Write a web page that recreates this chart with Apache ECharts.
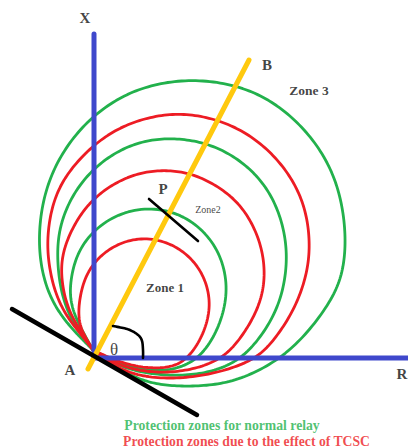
<!DOCTYPE html>
<html>
<head>
<meta charset="utf-8">
<style>
  html, body { margin: 0; padding: 0; background: #fff; }
  #chart { width: 408px; height: 448px; }
</style>
<script src="https://cdn.jsdelivr.net/npm/echarts@6/dist/echarts.min.js"></script>
</head>
<body>
<div id="chart"></div>
<script>
// zone outlines, clockwise from A (axis units follow the picture)
var greenZone1 = [[93, 350], [82, 330], [73, 310], [70, 287], [80, 248], [109, 219], [148, 208], [187, 218], [216, 247], [227, 286], [219, 326], [198, 358], [170, 370], [140, 369], [115, 361], [93, 350]];
var greenZone2 = [[93, 350], [80, 333], [68, 313], [60, 287], [57, 253], [60, 225], [72, 196], [90, 172], [114, 153], [142, 141], [172, 138], [202, 142], [229, 153], [254, 172], [272, 196], [283, 225], [287, 253], [285, 280], [278, 307], [263, 334], [242, 358], [220, 369], [190, 376], [150, 374], [120, 367], [93, 350]];
var greenZone3 = [[93, 350], [80, 337], [67, 323], [53, 303], [43, 277], [38, 240], [44, 193], [60, 156], [84, 124], [116, 99], [150, 85], [192, 79], [235, 85], [269, 99], [300, 124], [325, 156], [341, 195], [346, 240], [343, 270], [334, 297], [304, 337], [277, 361], [237, 381], [204, 386], [170, 386], [147, 382], [123, 372], [93, 350]];
var redZone1 = [[93, 350], [87, 340], [80, 325], [79, 304], [88, 271], [112, 247], [144, 238], [177, 247], [201, 271], [210, 303], [203, 334], [187, 358], [170, 367], [140, 367], [115, 360], [93, 350]];
var redZone2 = [[93, 350], [87, 340], [75, 323], [65, 300], [61, 273], [63, 250], [76, 221], [92, 200], [113, 184], [138, 173], [164, 170], [190, 173], [214, 184], [236, 200], [251, 221], [261, 245], [265, 271], [262, 298], [251, 322], [239, 340], [223, 358], [195, 369], [165, 373], [135, 370], [112, 362], [93, 350]];
var redZone3 = [[93, 350], [80, 333], [67, 317], [55, 293], [49, 265], [47, 240], [52, 205], [64, 178], [85, 153], [112, 131], [145, 118], [178, 113], [212, 118], [244, 131], [272, 153], [293, 180], [306, 210], [310, 245], [307, 274], [294, 311], [273, 341], [257, 358], [227, 370], [190, 378], [150, 378], [120, 370], [93, 350]];

var xAxisLine = [[94, 34], [94, 358]];
var rAxisLine = [[94, 358], [408, 358]];
var lineAB = [[88, 369], [249, 60]];
var tangentLine = [[12, 309], [197, 415]];
var pTick = [[149, 199], [198, 241]];
var thetaArc = [[113, 326], [130, 330], [141, 338], [143, 350], [143, 358]];

var labels = [
  { pos: [85, 18], text: 'X', size: 15, weight: 'bold', color: '#111' },
  { pos: [267, 65], text: 'B', size: 15, weight: 'bold', color: '#111' },
  { pos: [309, 90], text: 'Zone 3', size: 13.5, weight: 'bold', color: '#111' },
  { pos: [163, 189], text: 'P', size: 15, weight: 'bold', color: '#111' },
  { pos: [208, 209], text: 'Zone2', size: 10, weight: 'normal', color: '#111' },
  { pos: [165, 287], text: 'Zone 1', size: 13, weight: 'bold', color: '#111' },
  { pos: [70, 370], text: 'A', size: 15, weight: 'bold', color: '#111' },
  { pos: [114, 349], text: '\u03b8', size: 17, weight: 'normal', color: '#111' },
  { pos: [402, 374], text: 'R', size: 15, weight: 'bold', color: '#111' },
  { pos: [222, 425], text: 'Protection zones for normal relay', size: 13.7, weight: 'bold', color: '#22b14c' },
  { pos: [246.5, 441], text: 'Protection zones due to the effect of TCSC', size: 13.7, weight: 'bold', color: '#ed1c24' }
];

function dist(a, b) {
  return Math.sqrt(Math.sqrt((a[0] - b[0]) * (a[0] - b[0]) + (a[1] - b[1]) * (a[1] - b[1])));
}

// centripetal catmull-rom, the points are not evenly spaced
function densify(pts) {
  var out = [];
  for (var i = 0; i < pts.length - 1; i++) {
    var p1 = pts[i], p2 = pts[i + 1];
    var p0 = i > 0 ? pts[i - 1] : null, p3 = i < pts.length - 2 ? pts[i + 2] : null;
    var d1 = dist(p1, p2);
    var d0 = p0 ? dist(p0, p1) : 0, d2 = p3 ? dist(p2, p3) : 0;
    for (var k = 0; k < 12; k++) {
      var t = k / 12, t2 = t * t, t3 = t2 * t;
      var pt = [];
      for (var c = 0; c < 2; c++) {
        var m1 = p0 ? ((p1[c] - p0[c]) / d0 - (p2[c] - p0[c]) / (d0 + d1) + (p2[c] - p1[c]) / d1) * d1 : p2[c] - p1[c];
        var m2 = p3 ? ((p2[c] - p1[c]) / d1 - (p3[c] - p1[c]) / (d1 + d2) + (p3[c] - p2[c]) / d2) * d1 : p2[c] - p1[c];
        pt[c] = (2 * t3 - 3 * t2 + 1) * p1[c] + (t3 - 2 * t2 + t) * m1 + (-2 * t3 + 3 * t2) * p2[c] + (t3 - t2) * m2;
      }
      out.push(pt);
    }
  }
  out.push(pts[pts.length - 1]);
  return out;
}

// moving average to take the reading noise out, ends stay on A
function relax(pts, w) {
  return pts.map(function(p, i) {
    var h = Math.min(w, i, pts.length - 1 - i), x = 0, y = 0;
    for (var j = i - h; j <= i + h; j++) {
      x += pts[j][0];
      y += pts[j][1];
    }
    return [x / (2 * h + 1), y / (2 * h + 1)];
  });
}

function curve(data, color, width, z, w) {
  return {
    type: 'custom',
    data: data,
    silent: true,
    z: z,
    renderItem: function(params, api) {
      if (params.dataIndex !== 0) return;
      return {
        type: 'polyline',
        shape: { points: relax(relax(densify(data.map(function(p) { return api.coord(p); })), w), w) },
        style: { fill: 'none', stroke: color, lineWidth: width, lineJoin: 'round', lineCap: 'round' }
      };
    }
  };
}

function segment(data, color, width, z) {
  return {
    type: 'line',
    data: data,
    silent: true,
    z: z,
    symbol: 'none',
    lineStyle: { color: color, width: width, cap: 'round' }
  };
}

var chart = echarts.init(document.getElementById('chart'), null, { renderer: 'svg' });
chart.setOption({
  animation: false,
  backgroundColor: '#fff',
  grid: { left: 0, right: 0, top: 0, bottom: 0 },
  xAxis: { type: 'value', min: 0, max: 408, show: false },
  yAxis: { type: 'value', min: 0, max: 448, inverse: true, show: false },
  series: [
    curve(greenZone3, '#22b14c', 2.8, 2, 7),
    curve(greenZone2, '#22b14c', 2.8, 2, 7),
    curve(greenZone1, '#22b14c', 2.8, 2, 4),
    curve(redZone3, '#ed1c24', 2.8, 2, 7),
    curve(redZone2, '#ed1c24', 2.8, 2, 7),
    curve(redZone1, '#ed1c24', 2.8, 2, 4),
    segment(xAxisLine, '#3f48cc', 5, 3),
    segment(rAxisLine, '#3f48cc', 5, 3),
    segment(lineAB, '#ffc90e', 5, 4),
    segment(tangentLine, '#000', 4.5, 5),
    segment(pTick, '#000', 2.6, 5),
    curve(thetaArc, '#000', 2.6, 5, 2),
    {
      type: 'scatter',
      symbolSize: 0,
      silent: true,
      z: 6,
      data: labels.map(function(d) {
        return {
          value: d.pos,
          label: {
            show: true,
            position: 'inside',
            formatter: d.text,
            fontFamily: '"Liberation Serif"',
            fontSize: d.size,
            fontWeight: d.weight,
            color: d.color
          }
        };
      })
    }
  ]
});
</script>
</body>
</html>
